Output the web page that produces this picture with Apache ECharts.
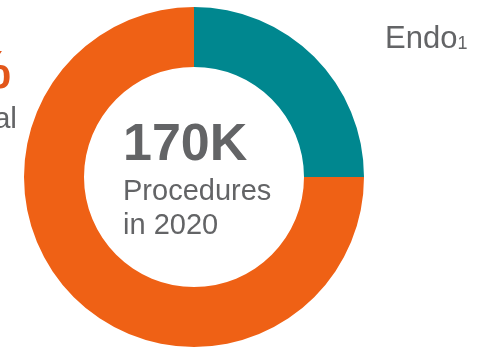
<!DOCTYPE html>
<html><head><meta charset="utf-8">
<script src="https://cdn.jsdelivr.net/npm/echarts@6/dist/echarts.min.js"></script>
<style>html,body{margin:0;padding:0;background:#fff}#c{width:481px;height:347px}</style>
</head><body><div id="c"></div>
<script>
const categories = ['Endo', 'Surgical'];
const values = [25, 75];
const colors = ['#00878F', '#EF6115'];
const centerBig = '170K';
const centerSub = ['Procedures', 'in 2020'];
const leftPct = '75%';
const leftLabel = 'Surgical';

const FONT = '"Liberation Sans", Arial, sans-serif';
const gray = '#636466';
const chart = echarts.init(document.getElementById('c'), null, {renderer: 'canvas'});
chart.setOption({
  animation: false,
  series: [{
    type: 'pie',
    center: [194, 177],
    radius: [110, 170],
    startAngle: 90,
    clockwise: true,
    label: {show: false},
    labelLine: {show: false},
    emphasis: {disabled: true},
    data: categories.map((c, i) => ({name: c, value: values[i], itemStyle: {color: colors[i]}}))
  }],
  graphic: [
    {type: 'text', left: 123, top: 120, style: {text: centerBig, font: 'bold 52px ' + FONT, fill: gray}},
    {type: 'text', left: 123, top: 177, style: {text: centerSub[0], font: '29px ' + FONT, fill: gray}},
    {type: 'text', left: 123, top: 211, style: {text: centerSub[1], font: '29px ' + FONT, fill: gray}},
    {type: 'text', left: 385, top: 24, style: {
      text: '{a|' + categories[0] + '}{b|1}',
      rich: {
        a: {font: '31px ' + FONT, fill: gray, verticalAlign: 'bottom'},
        b: {font: '18px ' + FONT, fill: gray, verticalAlign: 'bottom', padding: [0, 0, 2, 0]}
      }
    }},
    {type: 'text', x: 11, y: 100, style: {text: leftPct, font: 'bold 54px ' + FONT, fill: '#E2561A', textAlign: 'right', textVerticalAlign: 'bottom'}},
    {type: 'text', x: 17, y: 135, style: {text: leftLabel, font: '30px ' + FONT, fill: gray, textAlign: 'right', textVerticalAlign: 'bottom'}}
  ]
});
</script></body></html>
